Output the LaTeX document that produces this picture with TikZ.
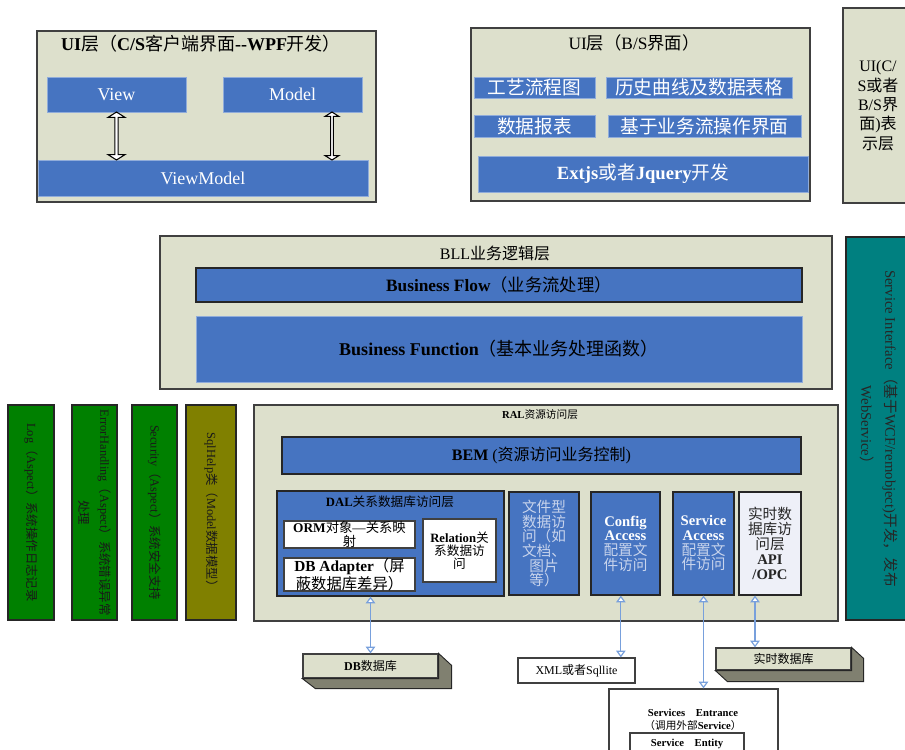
\documentclass[tikz,border=0pt]{standalone}
\usepackage{fontspec}
\setmainfont{Liberation Serif}
\newfontfamily\cjk{Noto Sans CJK SC}[BoldFont={Noto Sans CJK SC}]
\usepackage{tikz}
\usepackage{xcolor}
\usetikzlibrary{arrows.meta}
\usetikzlibrary{shapes.arrows}

% Chinese characters are set with the CJK font
\XeTeXinterchartokenstate=1
\newXeTeXintercharclass\cjkclass
\newcount\cjkcode
\newcommand\cjkrange[2]{\cjkcode=#1\relax
  \loop\XeTeXcharclass\cjkcode=\cjkclass
  \ifnum\cjkcode<#2\relax\advance\cjkcode by 1\repeat}
\cjkrange{"3000}{"303F}
\cjkrange{"4E00}{"9FFF}
\cjkrange{"FF00}{"FFEF}
\XeTeXinterchartoks 0 \cjkclass = {\cjk}
\XeTeXinterchartoks 4095 \cjkclass = {\cjk}
\XeTeXinterchartoks \cjkclass 0 = {\rmfamily}
\XeTeXinterchartoks \cjkclass 4095 = {\rmfamily}

\definecolor{layerbg}{RGB}{221,224,204}
\definecolor{boxblue}{RGB}{70,116,193}
\definecolor{aspectgreen}{RGB}{0,128,0}
\definecolor{helperolive}{RGB}{128,128,0}
\definecolor{svcteal}{RGB}{0,128,128}
\definecolor{linkblue}{RGB}{120,160,220}
\definecolor{slabside}{RGB}{128,128,112}
\definecolor{filetext}{RGB}{200,212,236}
\definecolor{rtfill}{RGB}{238,240,248}

\tikzset{
  layer/.style={draw=black!75, fill=layerbg, line width=0.9pt},
  bluebox/.style={draw=boxblue!60!white, fill=boxblue, text=white, line width=0.5pt},
  darkbox/.style={draw=black!85, fill=boxblue, line width=0.9pt},
  plainbox/.style={draw=black!75, fill=white, line width=0.9pt},
  aspect/.style={draw=black!85, fill=aspectgreen, text=black!90, line width=0.9pt,
    rotate=-90, font=\fontsize{9.3}{16}\selectfont},
  updown/.style={double arrow, draw=black, fill=white, line width=0.8pt,
    shape border rotate=90, inner sep=0pt, double arrow tip angle=115},
  slab/.style={draw=black!85, fill=slabside, line width=0.7pt},
  link/.style={draw=linkblue, line width=0.9pt,
    {Triangle[fill=white,length=5pt,width=7pt]}-{Triangle[fill=white,length=5pt,width=7pt]}},
  wh/.style 2 args={minimum width=#1*0.75pt, minimum height=#2*0.75pt, inner sep=0pt, align=center},
}

\begin{document}
\begin{tikzpicture}[x=0.75pt, y=-0.75pt]
\useasboundingbox (0,0) rectangle (905,749);
\clip (0,0) rectangle (905,749);

% UI layer, C/S client
\node[layer, wh={339}{171}] (uics) at (206.5,116.5) {};
\node[font=\fontsize{13.5}{15}\selectfont\bfseries] (uicstitle) at (201,44) {UI层（C/S客户端界面-{}-WPF开发）};
\node[bluebox, wh={139}{35}, font=\fontsize{13.5}{16}\selectfont] (view) at (116.5,94.5) {View};
\node[bluebox, wh={139}{35}, font=\fontsize{13.5}{16}\selectfont] (model) at (292.5,94.5) {Model};
\node[bluebox, wh={330}{36}, font=\fontsize{13.5}{16}\selectfont] (vm) at (203,178) {ViewModel};
\path (view.south) -- (view.south |- vm.north)
  node[updown, midway, minimum height=48*0.75pt, minimum width=17*0.75pt,
       double arrow head extend=2.2*0.75pt] (viewarrow) {};
\path ([xshift=29.6pt]model.south) -- ([xshift=29.6pt]model.south |- vm.north)
  node[updown, midway, minimum height=48*0.75pt, minimum width=14*0.75pt,
       double arrow head extend=2.2*0.75pt] (modelarrow) {};

% UI layer, B/S
\node[layer, wh={339}{173}] (uibs) at (640.5,114.5) {};
\node[font=\fontsize{13}{15}\selectfont] (uibstitle) at (634,43) {UI层（B/S界面）};
\node[bluebox, wh={121}{21}, font=\fontsize{14}{16}\selectfont] (flowchart) at (534.5,87.5) {工艺流程图};
\node[bluebox, wh={186}{21}, font=\fontsize{14}{16}\selectfont] (history) at (699,87.5) {历史曲线及数据表格};
\node[bluebox, wh={121}{22}, font=\fontsize{14}{16}\selectfont] (report) at (534.5,126) {数据报表};
\node[bluebox, wh={193}{22}, font=\fontsize{14}{16}\selectfont] (opui) at (704.5,126) {基于业务流操作界面};
\node[bluebox, wh={330}{36}, font=\fontsize{14}{16}\selectfont\bfseries] (extjs) at (643,174) {Extjs或者Jquery开发};

\node[layer, wh={70}{195}, font=\fontsize{12}{14.5}\selectfont] (uiside) at (878,105.5) {UI(C/\\S或者\\B/S界\\面)表\\示层};

% BLL
\node[layer, wh={672}{153}] (bll) at (496,312.5) {};
\node[font=\fontsize{12}{14}\selectfont] (blltitle) at (495,253) {BLL业务逻辑层};
\node[darkbox, wh={606}{34}, font=\fontsize{13}{16}\selectfont\bfseries] (bflow) at (499,285) {Business Flow（业务流处理）};
\node[bluebox, text=black, wh={606}{66}, font=\fontsize{13.5}{16}\selectfont\bfseries] (bfunc) at (499,349) {Business Function（基本业务处理函数）};

\node[draw=black!85, fill=svcteal, text=black!85, line width=0.9pt, rotate=-90, wh={383}{66},
      font=\fontsize{11}{18}\selectfont] (svcif) at (879,428.5) {Service Interface（基于WCF/remobject)开发，发布\\WebService）};

% aspects
\node[aspect, wh={215}{46}] (log) at (31,512.5) {Log（Aspect）系统操作日志记录};
\node[aspect, wh={215}{45}] (errh) at (94.5,512.5) {ErrorHandling（Aspect）系统错误异常\\处理};
\node[aspect, wh={215}{45}] (secur) at (154.5,512.5) {Security（Aspect）系统安全支持};
\node[aspect, fill=helperolive, wh={215}{50}] (sqlh) at (211,512.5) {SqlHelp类（Model数据模型）};

% RAL
\node[layer, wh={584}{216}] (ral) at (546,513) {};
\node[font=\fontsize{8}{10}\selectfont\bfseries] (raltitle) at (540,414) {RAL资源访问层};
\node[darkbox, wh={519}{37}, font=\fontsize{12}{14}\selectfont] (bem) at (541.5,455.5) {\textbf{BEM} (资源访问业务控制)};

\node[darkbox, wh={227}{105}] (dal) at (390.5,543.5) {};
\node[font=\fontsize{9.5}{11}\selectfont] (daltitle) at (390,502) {\textbf{DAL}关系数据库访问层};
\node[plainbox, wh={131}{27}, font=\fontsize{10}{11}\selectfont] (orm) at (349.5,534.5) {\textbf{ORM}对象—关系映\\射};
\node[plainbox, wh={131}{33}, font=\fontsize{11.5}{12}\selectfont] (dbadapter) at (349.5,574.5) {\textbf{DB Adapter}（屏\\蔽数据库差异）};
\node[plainbox, wh={73}{63}, font=\fontsize{9.5}{9.8}\selectfont] (relation) at (459.5,550.5) {\textbf{Relation}关\\系数据访\\问};

\node[darkbox, text=filetext, wh={70}{103}, font=\fontsize{11}{11}\selectfont] (filedata) at (544,543.5) {文件型\\数据访\\问（如\\文档、\\图片\\等）};
\node[darkbox, text=white, wh={69}{103}, font=\fontsize{11}{11}\selectfont] (config) at (625.5,543.5)
  {\textbf{Config}\\\textbf{Access}\\\textcolor{filetext}{配置文}\\\textcolor{filetext}{件访问}};
\node[darkbox, text=white, wh={61}{103}, font=\fontsize{11}{11}\selectfont] (svcaccess) at (703.5,543.5)
  {\textbf{Service}\\\textbf{Access}\\\textcolor{filetext}{配置文}\\\textcolor{filetext}{件访问}};
\node[darkbox, fill=rtfill, text=black!85, wh={62}{103}, font=\fontsize{11}{11.3}\selectfont] (rtaccess) at (770,543.5)
  {实时数\\据库访\\问层\\\textbf{API}\\\textbf{/OPC}};

% storage
\node[layer, wh={135}{24}, font=\fontsize{9}{11}\selectfont\bfseries] (db) at (370.5,666) {DB数据库};
\filldraw[slab] (db.north east) -- ++(13,12) -- ([shift={(13,10)}]db.south east)
  -- ([shift={(13,10)}]db.south west) -- (db.south west) -- (db.south east) -- cycle;
\node[plainbox, wh={117}{25}, font=\fontsize{9}{11}\selectfont] (xmldb) at (576.5,670.5) {XML或者Sqllite};
\node[layer, wh={135}{22}, font=\fontsize{9}{11}\selectfont\bfseries] (rtdb) at (783.5,659) {实时数据库};
\filldraw[slab] (rtdb.north east) -- ++(12,11) -- ([shift={(12,11)}]rtdb.south east)
  -- ([shift={(12,11)}]rtdb.south west) -- (rtdb.south west) -- (rtdb.south east) -- cycle;

\node[plainbox, wh={169}{71}] (entrance) at (693.5,724.5) {};
\node[font=\fontsize{8}{10}\selectfont, align=center] (entrancetext) at (693,719.5)
  {\textbf{Services\quad Entrance}\\（调用外部\textbf{Service}）};
\node[plainbox, wh={114}{24}, font=\fontsize{8}{10}\selectfont\bfseries] (entity) at (687,745)
  {\raisebox{3pt}{Service\quad Entity}};

% links
\draw[link] (db.north |- dal.south) -- (db.north);
\draw[link] ([xshift=-3.5pt]config.south) -- ([xshift=-3.5pt]config.south |- xmldb.north);
\draw[link] (svcaccess.south) -- (svcaccess.south |- entrance.north);
\draw[link] ([xshift=-11.25pt]rtaccess.south) -- ([xshift=-11.25pt]rtaccess.south |- rtdb.north);
\end{tikzpicture}
\end{document}
